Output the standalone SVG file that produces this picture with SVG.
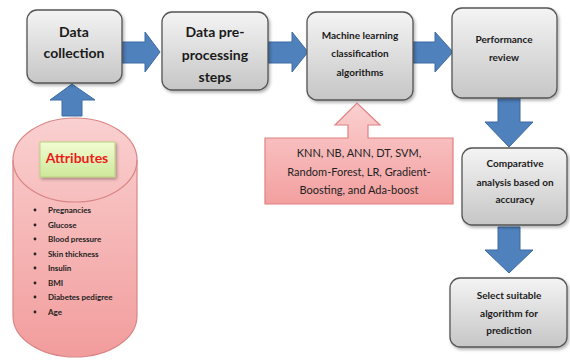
<svg xmlns="http://www.w3.org/2000/svg" width="570" height="364" viewBox="0 0 570 364">
<defs>
<linearGradient id="gGray" x1="0" y1="0" x2="0" y2="1"><stop offset="0" stop-color="#f4f4f4"/><stop offset="1" stop-color="#c6c6c6"/></linearGradient>
<linearGradient id="gPink" x1="0" y1="0" x2="0" y2="1"><stop offset="0" stop-color="#fbd0d0"/><stop offset="1" stop-color="#f39f9f"/></linearGradient>
<linearGradient id="gCyl" x1="0" y1="0" x2="0" y2="1"><stop offset="0" stop-color="#fad0d0"/><stop offset="1" stop-color="#f29c9c"/></linearGradient>
<linearGradient id="gGreen" x1="0" y1="0" x2="0" y2="1"><stop offset="0" stop-color="#f2fcd2"/><stop offset="1" stop-color="#cde89a"/></linearGradient>
<filter id="sh" x="-10%" y="-10%" width="130%" height="130%"><feDropShadow dx="1.5" dy="2" stdDeviation="1.5" flood-color="#000" flood-opacity="0.3"/></filter>
</defs>
<style>
.box{fill:url(#gGray);stroke:#555;stroke-width:1.3;filter:url(#sh)}
.t{font-family:Lato,"Liberation Sans",sans-serif;font-weight:bold;fill:#1a1a1a;text-anchor:middle}
.big{font-size:14px}
.sm{font-size:10px}
.arr{fill:#4f81bd;stroke:#3c6aa3;stroke-width:1}
.li{font-family:Lato,"Liberation Sans",sans-serif;font-weight:bold;font-size:8px;fill:#222}
.bul{fill:#222}
.pk{font-family:Lato,"Liberation Sans",sans-serif;font-size:11px;fill:#222;text-anchor:middle}
</style>
<rect width="570" height="364" fill="#fff"/>
<g id="connectors">
<polygon class="arr" points="122,42 145,42 145,32 160,52 145,72 145,63 122,63"/>
<polygon class="arr" points="268,42 292,42 292,32 308,52 292,72 292,63 268,63"/>
<polygon class="arr" points="413,42 435,42 435,32 453,52 435,72 435,63 413,63"/>
<polygon class="arr" points="498,98 520,98 520,122 533,122 509,147 485,122 498,122"/>
<polygon class="arr" points="498,227 520,227 520,250 533,250 509,273 485,250 498,250"/>
<polygon class="arr" points="62,116 62,100 50,100 72,84 95,100 82,100 82,116"/>
</g>
<g id="attributes">
<path d="M13,160 A62,42 0 0 1 137,160 V316 A62,41 0 0 1 13,316 Z" fill="url(#gCyl)" stroke="#d98585" stroke-width="1.2"/>
<path d="M13,160 A62,42 0 0 0 137,160" fill="none" stroke="#d98585" stroke-width="1.2"/>
<rect x="40" y="142" width="75" height="35" fill="url(#gGreen)" stroke="#b9d27e" stroke-width="1" filter="url(#sh)"/>
<text x="77" y="163" class="t" style="font-size:14px;fill:#ee1c1c">Attributes</text>
<circle class="bul" cx="35" cy="210" r="1.4"/><text class="li" x="48" y="213">Pregnancies</text>
<circle class="bul" cx="35" cy="225" r="1.4"/><text class="li" x="48" y="228">Glucose</text>
<circle class="bul" cx="35" cy="239" r="1.4"/><text class="li" x="48" y="242">Blood pressure</text>
<circle class="bul" cx="35" cy="254" r="1.4"/><text class="li" x="48" y="257">Skin thickness</text>
<circle class="bul" cx="35" cy="268" r="1.4"/><text class="li" x="48" y="271">Insulin</text>
<circle class="bul" cx="35" cy="283" r="1.4"/><text class="li" x="48" y="286">BMI</text>
<circle class="bul" cx="35" cy="297" r="1.4"/><text class="li" x="48" y="300">Diabetes pedigree</text>
<circle class="bul" cx="35" cy="312" r="1.4"/><text class="li" x="48" y="315">Age</text>
</g>
<g id="data-collection">
<rect class="box" x="27" y="10" width="95" height="73" rx="10"/>
<text class="t big" x="74" y="37">Data</text>
<text class="t big" x="74" y="58">collection</text>
</g>
<g id="preprocessing">
<rect class="box" x="162" y="12" width="106" height="78" rx="10"/>
<text class="t big" x="215" y="37">Data pre-</text>
<text class="t big" x="215" y="60">processing</text>
<text class="t big" x="215" y="82">steps</text>
</g>
<g id="ml-algorithms">
<rect class="box" x="307" y="12" width="106" height="88" rx="10"/>
<text class="t sm" x="360" y="39">Machine learning</text>
<text class="t sm" x="360" y="57">classification</text>
<text class="t sm" x="360" y="76">algorithms</text>
</g>
<g id="performance-review">
<rect class="box" x="452" y="8" width="105" height="90" rx="10"/>
<text class="t sm" x="504" y="43">Performance</text>
<text class="t sm" x="504" y="61">review</text>
</g>
<g id="algorithm-list">
<path d="M265,138 H348 V125 H335 L357,103 L380,125 H368 V138 H453 V204 H265 Z" fill="url(#gPink)" stroke="#e08080" stroke-width="1.2"/>
<text class="pk" x="359" y="157">KNN, NB, ANN, DT, SVM,</text>
<text class="pk" x="359" y="176">Random-Forest, LR, Gradient-</text>
<text class="pk" x="359" y="194">Boosting, and Ada-boost</text>
</g>
<g id="comparative-analysis">
<rect class="box" x="462" y="148" width="105" height="77" rx="10"/>
<text class="t sm" x="515" y="167">Comparative</text>
<text class="t sm" x="515" y="186">analysis based on</text>
<text class="t sm" x="515" y="203">accuracy</text>
</g>
<g id="select-algorithm">
<rect class="box" x="450" y="278" width="117" height="69" rx="10"/>
<text class="t sm" x="509" y="299">Select suitable</text>
<text class="t sm" x="509" y="317">algorithm for</text>
<text class="t sm" x="509" y="334">prediction</text>
</g>
</svg>
